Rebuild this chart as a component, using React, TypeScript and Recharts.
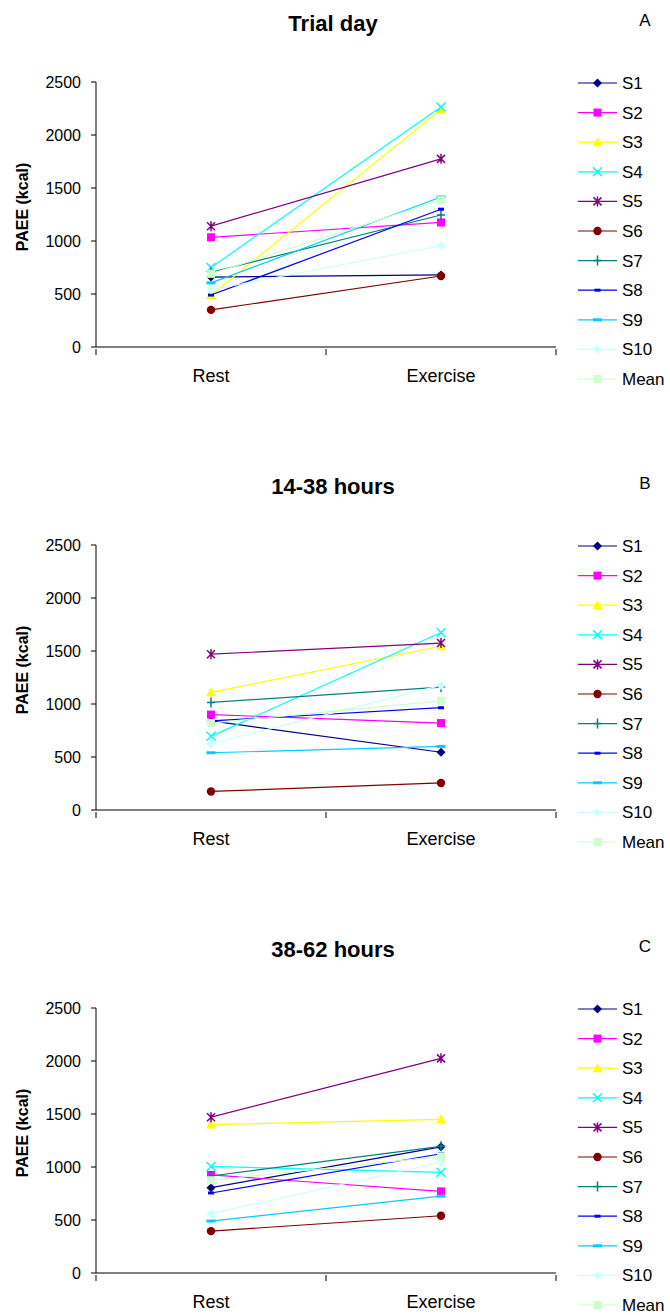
import { LineChart, Line, XAxis, YAxis, Legend } from "recharts";

const categories = ["Rest", "Exercise"];
const seriesNames = ["S1", "S2", "S3", "S4", "S5", "S6", "S7", "S8", "S9", "S10", "Mean"];
const yTicks = [0, 500, 1000, 1500, 2000, 2500];

// PAEE (kcal) per series
const trialRest = [660, 1035, 490, 750, 1140, 350, 705, 490, 605, 540, 690];
const trialExercise = [680, 1175, 2240, 2265, 1775, 670, 1245, 1300, 1415, 955, 1385];

const hours14Rest = [840, 900, 1110, 695, 1470, 175, 1015, 840, 540, 625, 820];
const hours14Exercise = [545, 820, 1545, 1675, 1575, 255, 1160, 965, 600, 1175, 1030];

const hours38Rest = [805, 925, 1400, 1005, 1470, 395, 915, 755, 490, 560, 875];
const hours38Exercise = [1190, 770, 1450, 950, 2025, 540, 1195, 1125, 725, 1045, 1100];

const colors = ["#000080", "#FF00FF", "#FFFF00", "#00FFFF", "#800080", "#800000", "#008080", "#0000FF", "#00CCFF", "#CCFFFF", "#CCFFCC"];
const shapes = ["diamond", "square", "triangle", "x", "star", "circle", "plus", "dash", "wideDash", "diamond", "square"];

const font = "'Liberation Sans', Arial, sans-serif";

// each category sits in the middle of its own band on a 0..2 axis
const buildRows = (rest: number[], exercise: number[]) =>
  categories.map((name, i) => {
    const row: any = { name, pos: i + 0.5 };
    seriesNames.forEach((s, j) => {
      row[s] = (i === 0 ? rest : exercise)[j];
    });
    return row;
  });

const Marker = ({ shape, color, cx, cy }: any) => {
  switch (shape) {
    case "diamond":
      return <path d={`M${cx},${cy - 4.5}L${cx + 4.5},${cy}L${cx},${cy + 4.5}L${cx - 4.5},${cy}Z`} fill={color} />;
    case "square":
      return <rect x={cx - 4} y={cy - 4} width={8} height={8} fill={color} />;
    case "triangle":
      return <path d={`M${cx},${cy - 5}L${cx + 5},${cy + 4}L${cx - 5},${cy + 4}Z`} fill={color} />;
    case "x":
      return (
        <path d={`M${cx - 4.5},${cy - 4.5}L${cx + 4.5},${cy + 4.5}M${cx + 4.5},${cy - 4.5}L${cx - 4.5},${cy + 4.5}`} stroke={color} strokeWidth={1.5} fill="none" />
      );
    case "star":
      return (
        <path d={`M${cx - 4},${cy - 4}L${cx + 4},${cy + 4}M${cx + 4},${cy - 4}L${cx - 4},${cy + 4}M${cx},${cy - 5}L${cx},${cy + 5}`} stroke={color} strokeWidth={1.5} fill="none" />
      );
    case "circle":
      return <circle cx={cx} cy={cy} r={4.2} fill={color} />;
    case "plus":
      return <path d={`M${cx},${cy - 5}L${cx},${cy + 5}M${cx - 4},${cy}L${cx + 4},${cy}`} stroke={color} strokeWidth={1.5} fill="none" />;
    case "dash":
      return <rect x={cx - 3} y={cy - 1.5} width={6} height={3} fill={color} />;
    case "wideDash":
      return <rect x={cx - 4.5} y={cy - 1.5} width={9} height={3} fill={color} />;
    default:
      return null;
  }
};

const makeDot = (shape: string, color: string) => (props: any) => {
  if (props.cx == null || props.cy == null) return <g key={props.index} />;
  return (
    <g key={props.index}>
      <Marker shape={shape} color={color} cx={props.cx} cy={props.cy} />
    </g>
  );
};

// tick marks at band edges, category labels at band centres
const FrameTick = (props: any) => {
  const { x, y, payload } = props;
  const v = payload.value;
  if (Number.isInteger(v)) {
    return <line x1={x} y1={y} x2={x} y2={y + 6} stroke="#000" strokeWidth={1} />;
  }
  return (
    <text x={x} y={y + 33} textAnchor="middle" fontSize={18} fontFamily={font} fill="#000">
      {categories[Math.floor(v)]}
    </text>
  );
};

const LegendBox = () => (
  <svg width={100} height={335} style={{ overflow: "visible" }}>
    {seriesNames.map((s, i) => {
      const cy = 12 + i * 29.6;
      return (
        <g key={s}>
          <line x1={8} y1={cy} x2={47} y2={cy} stroke={colors[i]} strokeWidth={1.2} />
          <Marker shape={shapes[i]} color={colors[i]} cx={27.5} cy={cy} />
          <text x={52} y={cy + 6} fontSize={17} fontFamily={font} fill="#000">
            {s}
          </text>
        </g>
      );
    })}
  </svg>
);

const Panel = ({ title, letter, rows, top }: any) => (
  <div style={{ position: "absolute", left: 0, top }}>
    <LineChart width={670} height={464} data={rows} margin={{ top: 82, right: 14, left: 0, bottom: 87 }}>
      <XAxis
        dataKey="pos"
        type="number"
        domain={[0, 2]}
        allowDataOverflow
        ticks={[0, 0.5, 1, 1.5, 2]}
        interval={0}
        tickSize={0}
        tickLine={false}
        axisLine={{ stroke: "#000", strokeWidth: 1 }}
        tick={<FrameTick />}
        height={30}
      />
      <YAxis
        domain={[0, 2500]}
        ticks={yTicks}
        interval={0}
        width={96}
        tickSize={5}
        tickMargin={10}
        axisLine={{ stroke: "#000", strokeWidth: 1 }}
        tickLine={{ stroke: "#000", strokeWidth: 1 }}
        tick={{ fontSize: 16, fontFamily: font, fill: "#000" }}
      />
      <Legend
        layout="vertical"
        align="right"
        verticalAlign="top"
        content={() => <LegendBox />}
        wrapperStyle={{ left: 570, top: 71, width: 100, height: 335 }}
      />
      {seriesNames.map((s, i) => (
        <Line
          key={s}
          dataKey={s}
          type="linear"
          stroke={colors[i]}
          strokeWidth={1.2}
          dot={makeDot(shapes[i], colors[i])}
          activeDot={false}
          isAnimationActive={false}
        />
      ))}
      <text x={333} y={31} textAnchor="middle" fontSize={22} fontWeight="bold" fontFamily={font} fill="#000">
        {title}
      </text>
      <text x={645} y={26} textAnchor="middle" fontSize={17} fontFamily={font} fill="#000">
        {letter}
      </text>
      <text x={28} y={207} textAnchor="middle" fontSize={16} fontWeight="bold" fontFamily={font} fill="#000" transform="rotate(-90, 28, 207)">
        PAEE (kcal)
      </text>
    </LineChart>
  </div>
);

export default function App() {
  return (
    <div style={{ position: "absolute", left: 0, top: 0, width: 670, height: 1315, overflow: "hidden", background: "#fff" }}>
      <Panel title="Trial day" letter="A" rows={buildRows(trialRest, trialExercise)} top={0} />
      <Panel title="14-38 hours" letter="B" rows={buildRows(hours14Rest, hours14Exercise)} top={463} />
      <Panel title="38-62 hours" letter="C" rows={buildRows(hours38Rest, hours38Exercise)} top={926} />
    </div>
  );
}
